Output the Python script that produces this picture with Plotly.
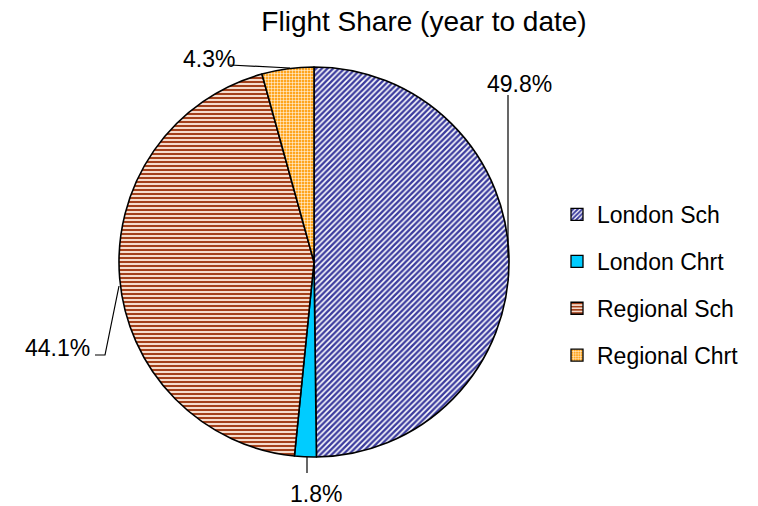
import plotly.graph_objects as go

# ---- data ----
categories = ["London Sch", "London Chrt", "Regional Sch", "Regional Chrt"]
shares = [49.8, 1.8, 44.1, 4.3]
title_text = "Flight Share (year to date)"

# ---- styles ----
fg_colors = ["#3C3C9E", "#00CCFF", "#A3401A", "#FFFFFF"]
bg_colors = ["#FFFFFF", "#00CCFF", "#F5DCCD", "#FFA51E"]
legend_fill = ["#FFFFFF", "#00CCFF", "#F5DCCD", "#FFA51E"]
shapes_pat = ["/", "", "-", "+"]
sizes_pat = [4, 8, 4, 3]
solid_pat = [0.6, 0.3, 0.5, 0.3]
FONT = "Liberation Sans, Arial, sans-serif"
W, H = 758, 506


def px(x, y):
    return x / W, 1 - y / H


fig = go.Figure()
fig.add_trace(go.Pie(
    labels=categories, values=shares, sort=False, direction="clockwise",
    rotation=0, textinfo="none", showlegend=False,
    domain=dict(x=[119 / W, 509 / W], y=[1 - 457 / H, 1 - 67 / H]),
    marker=dict(
        colors=bg_colors,
        line=dict(color="black", width=1.6),
        pattern=dict(shape=shapes_pat, fgcolor=fg_colors, bgcolor=bg_colors,
                     size=sizes_pat, solidity=solid_pat, fillmode="replace"),
    ),
))

# legend entries (legend-only traces, one group each for spacing)
for i, c in enumerate(categories):
    fig.add_trace(go.Bar(
        x=[None], y=[None], name=c, legendgroup=c, showlegend=True,
        marker=dict(color=legend_fill[i],
                    line=dict(color="black", width=1.3),
                    pattern=dict(shape=shapes_pat[i], fgcolor=fg_colors[i],
                                 bgcolor=bg_colors[i], size=sizes_pat[i],
                                 solidity=solid_pat[i], fillmode="replace")),
    ))

# percentage labels with leader lines
label_pos = [(519, 84), (316, 494), (57, 348), (209, 59)]
leaders = [
    [(508, 95), (508, 258)],
    [(307, 457), (307, 473)],
    [(95, 355), (105, 355), (119, 286)],
    [(230, 65), (290, 68)],
]
annotations = []
for v, (lx, ly) in zip(shares, label_pos):
    ax_, ay_ = px(lx, ly)
    annotations.append(dict(text=f"{v:.1f}%", x=ax_, y=ay_, xref="paper", yref="paper",
                            showarrow=False, xanchor="center", yanchor="middle",
                            font=dict(family=FONT, size=23, color="black")))
shapes = []
for pts in leaders:
    path = ""
    for k, (x, y) in enumerate(pts):
        xx, yy = px(x, y)
        path += ("M" if k == 0 else "L") + f"{xx},{yy} "
    shapes.append(dict(type="path", path=path.strip(), xref="paper", yref="paper",
                       line=dict(color="black", width=1.2)))

tx, ty = px(424, 21)
fig.update_layout(
    width=W, height=H,
    margin=dict(l=0, r=0, t=0, b=0),
    paper_bgcolor="white", plot_bgcolor="white",
    font=dict(family=FONT, color="black"),
    title=dict(text=title_text, x=tx, y=ty, xanchor="center", yanchor="middle",
               xref="paper", yref="container",
               font=dict(family=FONT, size=28, color="black")),
    xaxis=dict(visible=False), yaxis=dict(visible=False),
    legend=dict(x=557 / W, y=1 - 193 / H, xanchor="left", yanchor="top",
                font=dict(family=FONT, size=23, color="black"),
                tracegroupgap=14, bgcolor="rgba(0,0,0,0)", borderwidth=0,
                itemclick=False),
    annotations=annotations,
    shapes=shapes,
)

fig.write_html("out.html", config={"displayModeBar": False},
               post_script="document.body.style.margin='0';document.body.style.overflow='hidden';")
